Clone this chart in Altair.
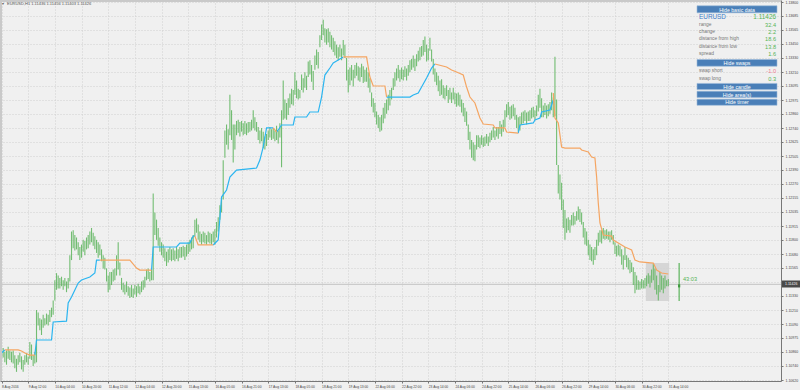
import json
import altair as alt
import pandas as pd

# ---------------- data ----------------
bar_high = [
 1.1087,1.1089,1.1086,1.1087,1.1090,1.1087,1.1086,1.1087,1.1083,1.1080,
 1.1083,1.1085,1.1082,1.1079,1.1083,1.1085,1.1082,1.1094,1.1092,1.1083,
 1.1086,1.1121,1.1119,1.1114,1.1113,1.1117,1.1114,1.1118,1.1117,1.1121,
 1.1123,1.1129,1.1146,1.1152,1.1150,1.1148,1.1149,1.1146,1.1148,1.1145,
 1.1148,1.1167,1.1187,1.1188,1.1184,1.1182,1.1178,1.1174,1.1176,1.1180,
 1.1179,1.1182,1.1184,1.1187,1.1190,1.1186,1.1183,1.1180,1.1178,1.1176,
 1.1172,1.1167,1.1165,1.1156,1.1150,1.1153,1.1153,1.1155,1.1156,1.1167,
 1.1178,1.1161,1.1148,1.1144,1.1142,1.1145,1.1141,1.1140,1.1142,1.1139,
 1.1142,1.1141,1.1143,1.1141,1.1145,1.1146,1.1149,1.1155,1.1156,1.1153,
 1.1155,1.1219,1.1203,1.1197,1.1190,1.1182,1.1178,1.1176,1.1173,1.1170,
 1.1172,1.1174,1.1172,1.1173,1.1171,1.1174,1.1172,1.1174,1.1174,1.1175,
 1.1174,1.1176,1.1178,1.1180,1.1182,1.1184,1.1197,1.1198,1.1193,1.1187,
 1.1185,1.1187,1.1186,1.1184,1.1187,1.1186,1.1185,1.1187,1.1189,1.1195,
 1.1199,1.1209,1.1215,1.1247,1.1272,1.1277,1.1273,1.1302,1.1289,1.1277,
 1.1277,1.1280,1.1281,1.1279,1.1280,1.1278,1.1280,1.1278,1.1279,1.1279,
 1.1281,1.1289,1.1283,1.1279,1.1275,1.1272,1.1274,1.1271,1.1267,1.1269,
 1.1272,1.1275,1.1273,1.1274,1.1272,1.1276,1.1272,1.1278,1.1289,1.1314,
 1.1298,1.1295,1.1299,1.1303,1.1307,1.1306,1.1321,1.1314,1.1307,1.1306,
 1.1319,1.1316,1.1321,1.1318,1.1330,1.1331,1.1327,1.1322,1.1335,1.1340,
 1.1338,1.1352,1.1361,1.1365,1.1358,1.1357,1.1358,1.1355,1.1352,1.1350,
 1.1347,1.1344,1.1342,1.1344,1.1341,1.1348,1.1344,1.1333,1.1323,1.1325,
 1.1327,1.1323,1.1327,1.1329,1.1326,1.1325,1.1328,1.1326,1.1323,1.1325,
 1.1321,1.1316,1.1304,1.1299,1.1295,1.1288,1.1285,1.1283,1.1285,1.1291,
 1.1295,1.1298,1.1302,1.1306,1.1308,1.1316,1.1321,1.1324,1.1327,1.1323,
 1.1325,1.1323,1.1326,1.1324,1.1327,1.1331,1.1332,1.1335,1.1332,1.1336,
 1.1339,1.1342,1.1343,1.1348,1.1351,1.1344,1.1341,1.1350,1.1340,1.1332,
 1.1324,1.1321,1.1318,1.1314,1.1315,1.1310,1.1308,1.1310,1.1306,1.1308,
 1.1304,1.1308,1.1304,1.1303,1.1304,1.1302,1.1298,1.1295,1.1291,1.1288,
 1.1277,1.1271,1.1264,1.1262,1.1260,1.1268,1.1268,1.1266,1.1268,1.1266,
 1.1267,1.1269,1.1267,1.1270,1.1272,1.1275,1.1272,1.1275,1.1275,1.1280,
 1.1277,1.1281,1.1289,1.1294,1.1296,1.1292,1.1293,1.1294,1.1291,1.1285,
 1.1283,1.1284,1.1287,1.1288,1.1289,1.1287,1.1288,1.1289,1.1291,1.1292,
 1.1289,1.1293,1.1302,1.1307,1.1299,1.1293,1.1295,1.1293,1.1294,1.1296,
 1.1304,1.1300,1.1334,1.1298,1.1243,1.1235,1.1228,1.1214,1.1205,1.1198,
 1.1199,1.1197,1.1201,1.1203,1.1200,1.1204,1.1208,1.1206,1.1203,1.1195,
 1.1190,1.1187,1.1180,1.1176,1.1174,1.1172,1.1174,1.1180,1.1186,1.1188,
 1.1188,1.1190,1.1188,1.1189,1.1187,1.1187,1.1188,1.1184,1.1178,1.1175,
 1.1176,1.1175,1.1172,1.1167,1.1174,1.1167,1.1165,1.1163,1.1161,1.1157,
 1.1153,1.1150,1.1146,1.1145,1.1147,1.1146,1.1148,1.1150,1.1152,1.1150,
 1.1155,1.1160,1.1156,1.1150,1.1142,1.1153,1.1150,1.1148,1.1150,1.1146,
 1.1147,
]
bar_low = [
 1.1079,1.1081,1.1077,1.1075,1.1080,1.1079,1.1077,1.1076,1.1072,1.1069,
 1.1075,1.1077,1.1071,1.1069,1.1075,1.1077,1.1075,1.1080,1.1079,1.1074,
 1.1076,1.1077,1.1108,1.1104,1.1100,1.1106,1.1108,1.1109,1.1108,1.1111,
 1.1115,1.1117,1.1129,1.1138,1.1139,1.1139,1.1141,1.1138,1.1141,1.1136,
 1.1139,1.1145,1.1163,1.1173,1.1171,1.1172,1.1167,1.1163,1.1165,1.1170,
 1.1167,1.1172,1.1173,1.1176,1.1178,1.1175,1.1172,1.1169,1.1165,1.1167,
 1.1162,1.1156,1.1155,1.1145,1.1136,1.1138,1.1142,1.1145,1.1146,1.1150,
 1.1155,1.1150,1.1138,1.1136,1.1134,1.1136,1.1133,1.1131,1.1132,1.1131,
 1.1134,1.1132,1.1135,1.1134,1.1136,1.1138,1.1140,1.1146,1.1147,1.1145,
 1.1146,1.1146,1.1184,1.1180,1.1175,1.1170,1.1167,1.1165,1.1162,1.1158,
 1.1161,1.1163,1.1162,1.1163,1.1162,1.1164,1.1162,1.1165,1.1165,1.1166,
 1.1163,1.1166,1.1168,1.1170,1.1172,1.1173,1.1183,1.1186,1.1180,1.1178,
 1.1176,1.1178,1.1177,1.1176,1.1178,1.1177,1.1176,1.1178,1.1176,1.1182,
 1.1187,1.1197,1.1203,1.1214,1.1249,1.1260,1.1256,1.1268,1.1264,1.1245,
 1.1256,1.1268,1.1270,1.1267,1.1271,1.1268,1.1269,1.1268,1.1270,1.1271,
 1.1272,1.1274,1.1272,1.1271,1.1264,1.1261,1.1263,1.1257,1.1256,1.1259,
 1.1264,1.1266,1.1264,1.1265,1.1263,1.1264,1.1261,1.1266,1.1241,1.1281,
 1.1282,1.1281,1.1285,1.1291,1.1294,1.1293,1.1302,1.1299,1.1298,1.1299,
 1.1306,1.1304,1.1308,1.1306,1.1317,1.1319,1.1313,1.1306,1.1323,1.1327,
 1.1324,1.1342,1.1348,1.1352,1.1346,1.1344,1.1346,1.1342,1.1340,1.1338,
 1.1335,1.1333,1.1331,1.1334,1.1331,1.1335,1.1333,1.1314,1.1304,1.1310,
 1.1314,1.1309,1.1316,1.1318,1.1314,1.1313,1.1317,1.1312,1.1313,1.1313,
 1.1308,1.1304,1.1292,1.1287,1.1283,1.1277,1.1274,1.1271,1.1272,1.1278,
 1.1282,1.1286,1.1289,1.1293,1.1298,1.1306,1.1309,1.1314,1.1316,1.1313,
 1.1315,1.1314,1.1317,1.1314,1.1318,1.1321,1.1323,1.1325,1.1322,1.1326,
 1.1330,1.1331,1.1334,1.1335,1.1338,1.1330,1.1331,1.1339,1.1330,1.1319,
 1.1313,1.1310,1.1305,1.1301,1.1302,1.1299,1.1298,1.1301,1.1295,1.1298,
 1.1295,1.1298,1.1294,1.1292,1.1293,1.1292,1.1287,1.1284,1.1279,1.1276,
 1.1264,1.1256,1.1249,1.1247,1.1246,1.1256,1.1258,1.1257,1.1260,1.1258,
 1.1259,1.1261,1.1259,1.1262,1.1264,1.1266,1.1264,1.1267,1.1265,1.1269,
 1.1267,1.1271,1.1275,1.1283,1.1285,1.1281,1.1282,1.1284,1.1281,1.1274,
 1.1271,1.1272,1.1277,1.1278,1.1280,1.1277,1.1280,1.1280,1.1282,1.1283,
 1.1281,1.1284,1.1288,1.1291,1.1283,1.1283,1.1285,1.1282,1.1284,1.1286,
 1.1289,1.1283,1.1284,1.1243,1.1219,1.1214,1.1205,1.1190,1.1180,1.1186,
 1.1188,1.1186,1.1192,1.1192,1.1193,1.1196,1.1197,1.1195,1.1193,1.1182,
 1.1176,1.1175,1.1167,1.1163,1.1162,1.1159,1.1163,1.1167,1.1175,1.1178,
 1.1177,1.1181,1.1180,1.1181,1.1180,1.1178,1.1180,1.1176,1.1168,1.1166,
 1.1167,1.1166,1.1159,1.1155,1.1163,1.1157,1.1155,1.1152,1.1153,1.1142,
 1.1135,1.1138,1.1138,1.1138,1.1139,1.1139,1.1139,1.1141,1.1143,1.1140,
 1.1144,1.1146,1.1138,1.1134,1.1129,1.1136,1.1138,1.1135,1.1139,1.1141,
 1.1141,
]
assert len(bar_high) == len(bar_low) == 401, (len(bar_high), len(bar_low))

x_tick_labels = [
 "8 Aug 2016", "9 Aug 12:00", "10 Aug 04:00", "10 Aug 20:00", "11 Aug 12:00",
 "12 Aug 04:00", "12 Aug 20:00", "15 Aug 13:00", "16 Aug 05:00", "16 Aug 21:00",
 "17 Aug 13:00", "18 Aug 05:00", "18 Aug 21:00", "19 Aug 13:00", "22 Aug 06:00",
 "22 Aug 22:00", "23 Aug 14:00", "24 Aug 06:00", "24 Aug 22:00", "25 Aug 14:00",
 "26 Aug 06:00", "26 Aug 22:00", "29 Aug 14:00", "30 Aug 06:00", "30 Aug 22:00",
 "31 Aug 14:00",
]
bars_per_label = 16

y_tick_values = [
 1.13800, 1.13685, 1.13565, 1.13450, 1.13330, 1.13210, 1.13095, 1.12975,
 1.12860, 1.12740, 1.12625, 1.12505, 1.12390, 1.12270, 1.12155, 1.12035,
 1.11915, 1.11800, 1.11680, 1.11565, 1.11445, 1.11330, 1.11210, 1.11090,
 1.10975, 1.10860, 1.10740, 1.10620,
]

# trailing level lines: (bar indices, prices)
blue_segments = [
 ([0, 2], [1.10848, 1.10874]),
 ([20, 21, 30, 31, 39, 40, 42, 46, 48, 53, 56, 57, 59],
  [1.10831, 1.10958, 1.10958, 1.11109, 1.11117, 1.11269, 1.11319, 1.11437,
   1.11462, 1.11488, 1.11521, 1.11630, 1.11630]),
 ([90, 91, 105, 107, 113, 115, 116],
  [1.11546, 1.11740, 1.11740, 1.11773, 1.11773, 1.11832, 1.11832]),
 ([127, 130, 132, 135, 137, 141, 153, 155, 157, 159, 163],
  [1.11757, 1.11799, 1.12160, 1.12219, 1.12328, 1.12387, 1.12404, 1.12471,
   1.12581, 1.12741, 1.12741]),
 ([165, 166, 168, 175, 176, 183, 185, 190, 192, 194, 197, 199, 201, 205],
  [1.12707, 1.12724, 1.12766, 1.12766, 1.12833, 1.12833, 1.12875, 1.12875,
   1.13001, 1.13186, 1.13245, 1.13287, 1.13304, 1.13338]),
 ([231, 245, 247, 250, 252, 255, 258, 260],
  [1.13001, 1.13001, 1.13018, 1.13035, 1.13085, 1.13161, 1.13245, 1.13279]),
 ([310, 311, 319, 320, 323, 324, 329, 331],
  [1.12698, 1.12766, 1.12783, 1.12808, 1.12825, 1.12875, 1.12892, 1.12976]),
]
orange_segments = [
 ([2, 10, 12, 14, 17, 20],
  [1.10874, 1.10874, 1.10865, 1.10848, 1.10831, 1.10831]),
 ([59, 77, 81, 83, 90], [1.11630, 1.11630, 1.11563, 1.11546, 1.11546]),
 ([116, 118, 127], [1.11832, 1.11757, 1.11757]),
 ([163, 165], [1.12741, 1.12707]),
 ([205, 219, 221, 223, 230, 231],
  [1.13338, 1.13338, 1.13169, 1.13094, 1.13094, 1.13001]),
 ([260, 267, 270, 273, 277, 279, 281, 284, 287, 289, 295, 296, 302, 303, 310],
  [1.13279, 1.13254, 1.13228, 1.13211, 1.13186, 1.13085, 1.13001, 1.12951,
   1.12825, 1.12774, 1.12766, 1.12741, 1.12741, 1.12707, 1.12698]),
 ([331, 332, 334, 336, 338, 347, 348, 352, 354, 356, 357, 358, 359, 361, 366,
   367, 374, 378, 380, 383, 391, 393, 396, 400],
  [1.13035, 1.12825, 1.12783, 1.12581, 1.12572, 1.12572, 1.12556, 1.12539,
   1.12497, 1.12488, 1.12328, 1.12110, 1.11942, 1.11841, 1.11832, 1.11799,
   1.11740, 1.11715, 1.11630, 1.11614, 1.11605, 1.11546, 1.11521, 1.11513]),
]

symbol = "EURUSD"
title_text = "EURUSD,H1  1.11436 1.11456 1.11403 1.11426"
current_price = 1.11426
current_price_label = "1.11426"
info_labels = ["range", "change", "distance from high", "distance from low", "spread"]
info_values = ["32.4", "2.2", "18.6", "13.8", "1.6"]
swap_labels = ["swap short", "swap long"]
swap_values = ["-1.0", "0.3"]
button_labels = ["Hide basic data", "Hide swaps", "Hide candle", "Hide area(s)", "Hide timer"]
timer_text = "43:03"
# today's area box and the daily candle
area_bars = [386.5, 400.5]
area_prices = [1.11605, 1.11286]
day_candle_bar = [406.5]
day_candle_hl = [1.11605, 1.11286]
day_candle_oc = [1.11400, 1.11426]

# ---------------- styling ----------------
FONT = "Liberation Sans"
BG = "#f0f0f0"
GREEN = "#5cb45c"
W, H = 781, 381
xscale = alt.Scale(domain=[-0.9, -0.9 + W / 1.667], nice=False, zero=False)
yscale = alt.Scale(domain=[1.10613, 1.13817], nice=False, zero=False)

bars = pd.DataFrame({"i": range(len(bar_high)), "high": bar_high, "low": bar_low})

rows = []
for name, segs in (("blue", blue_segments), ("orange", orange_segments)):
    for s, (bx, py) in enumerate(segs):
        for k, (b, p) in enumerate(zip(bx, py)):
            rows.append({"kind": name, "seg": f"{name}{s}", "ord": k, "bar": b, "price": p})
lines = pd.DataFrame(rows)

label_expr = json.dumps(x_tick_labels) + f"[round(datum.value/{bars_per_label})]"

X_AXIS = alt.Axis(
    values=[bars_per_label * k for k in range(len(x_tick_labels))],
    labelExpr=label_expr, title=None, orient="bottom",
    labelAlign="left", labelBaseline="top", labelFontSize=3.3, labelColor="#444",
    labelFont=FONT, labelPadding=1, labelOverlap=False, labelFlush=False,
    tickSize=2, tickColor="#777", domainColor="#777", domainWidth=1,
    grid=True, gridColor="#d0d0d0", gridDash=[1, 2], gridWidth=1,
)
Y_AXIS = alt.Axis(
    values=y_tick_values, format=".5f", title=None, orient="right",
    labelFontSize=3.5, labelColor="#444", labelFont=FONT, labelPadding=2,
    labelOverlap=False, labelFlush=False, labelBaseline="middle",
    tickSize=2, tickColor="#777", domainColor="#777", domainWidth=1,
    grid=True, gridColor="#d0d0d0", gridDash=[1, 2], gridWidth=1,
)


def X(field):
    return alt.X(field, scale=xscale, axis=X_AXIS)


def Y(field):
    return alt.Y(field, scale=yscale, axis=Y_AXIS)


price_line = alt.Chart(pd.DataFrame({"p": [current_price]})).mark_rule(
    color="#c2c2c2", strokeWidth=1
).encode(y=Y("p:Q"))

area = alt.Chart(pd.DataFrame({"b0": [area_bars[0]], "b1": [area_bars[1]],
                               "p0": [area_prices[0]], "p1": [area_prices[1]]})).mark_rect(
    color="#d3d3d3", opacity=0.9
).encode(x=X("b0:Q"), x2="b1:Q", y=Y("p0:Q"), y2="p1:Q")

bar_layer = alt.Chart(bars).mark_rule(color=GREEN, strokeWidth=1.1, opacity=0.85).encode(
    x=X("i:Q"), y=Y("high:Q"), y2="low:Q",
)

line_layer = alt.Chart(lines).mark_line(strokeWidth=1.2, interpolate="linear").encode(
    x=X("bar:Q"), y=Y("price:Q"),
    detail="seg:N",
    order="ord:Q",
    color=alt.Color("kind:N", scale=alt.Scale(domain=["blue", "orange"],
                                              range=["#2bb5f0", "#f5a562"]), legend=None),
)

cdf = pd.DataFrame({"b": day_candle_bar, "h": [day_candle_hl[0]], "l": [day_candle_hl[1]],
                    "o": [day_candle_oc[0]], "c": [day_candle_oc[1]]})
candle_wick = alt.Chart(cdf).mark_rule(color=GREEN, strokeWidth=1.2).encode(
    x=X("b:Q"), y=Y("h:Q"), y2="l:Q")
candle_body = alt.Chart(cdf).mark_rule(color="#3f9a3f", strokeWidth=2.2).encode(
    x=X("b:Q"), y=Y("o:Q"), y2="c:Q")


def px_text(text, x, y, size, color, align="left", weight="normal"):
    return alt.Chart(pd.DataFrame({"t": [text]})).mark_text(
        align=align, baseline="middle", fontSize=size, color=color, font=FONT,
        fontWeight=weight,
    ).encode(x=alt.value(x), y=alt.value(y), text="t:N")


def px_rect(x0, x1, y0, y1, color, stroke=None):
    kw = {"color": color}
    if stroke:
        kw.update(stroke=stroke, strokeWidth=0.6)
    return alt.Chart(pd.DataFrame({"a": [0]})).mark_rect(**kw).encode(
        x=alt.value(x0), x2=alt.value(x1), y=alt.value(y0), y2=alt.value(y1))


deco = [
    px_rect(0, W, 0, 2, "#c9c9c9"),
    px_rect(0, 2, 0, H, "#c9c9c9"),
    px_text("\u25be", 2, 4.2, 4, "#666"),
    px_text(title_text, 7, 4.2, 4, "#555"),
    px_text(timer_text, 683, 279, 5.6, "#55b455"),
    px_rect(782, 800, 280.5, 287.5, "#4a4a4a"),
    px_text(current_price_label, 785, 284, 3.5, "#f4f4f4"),
]

PX0, PX1 = 697, 777
BTN = "#4a7fb8"
panel = []
button_y = [(5.8, 12.8), (59.5, 66.2), (83.4, 89.6), (91.3, 97.4), (99.2, 105.3)]
for lab, (y0, y1) in zip(button_labels, button_y):
    panel.append(px_rect(PX0, PX1, y0, y1, BTN, stroke="#9bb8d8"))
    panel.append(px_text(lab, (PX0 + PX1) / 2, (y0 + y1) / 2 + 0.2, 5.2, "#ffffff", align="center"))
panel.append(px_text(symbol, 699, 17, 6.4, "#3d7cc9"))
panel.append(px_text(current_price_label, 776, 17, 6.4, "#55b455", align="right"))
for k, (lab, val) in enumerate(zip(info_labels, info_values)):
    yy = 24.5 + 7.4 * k
    panel.append(px_text(lab, 699, yy, 4.9, "#777"))
    panel.append(px_text(val, 776, yy, 5.6, "#55b455", align="right"))
swap_colors = ["#f07891", "#55b455"]
for k, (lab, val) in enumerate(zip(swap_labels, swap_values)):
    yy = 71 + 7.5 * k
    panel.append(px_text(lab, 699, yy, 4.9, "#777"))
    panel.append(px_text(val, 776, yy, 5.6, swap_colors[k], align="right"))

chart = alt.layer(
    price_line, area, bar_layer, line_layer, candle_wick, candle_body, *deco, *panel
).properties(
    width=W, height=H,
    autosize=alt.AutoSizeParams(type="none"),
    padding={"left": 0, "top": 0, "right": 800 - W, "bottom": 390 - H},
    background=BG,
).configure_view(stroke=None, fill=BG)

chart.save("out.html", embed_options={"renderer": "svg", "actions": False})
